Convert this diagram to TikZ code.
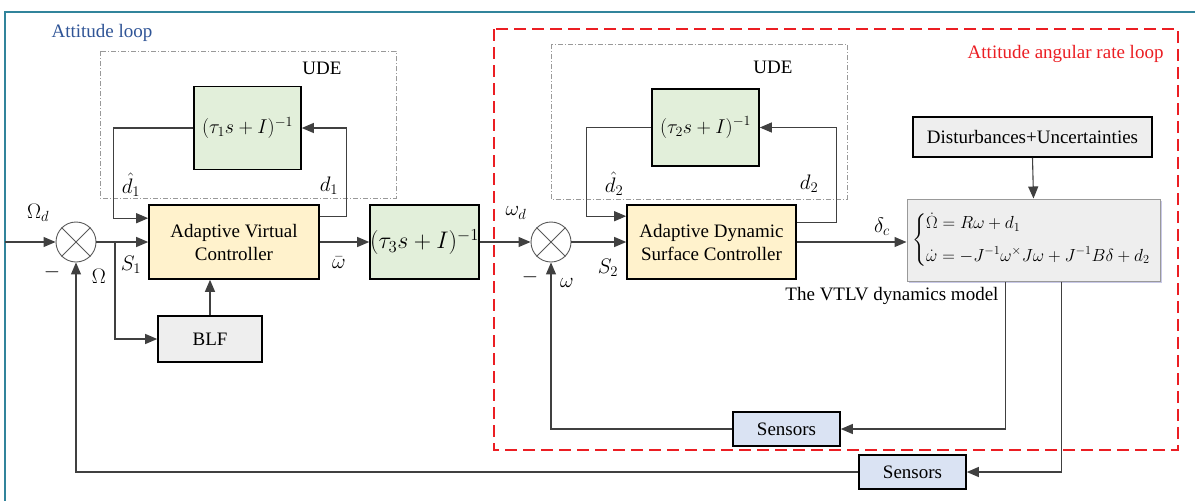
\RequirePackage{fix-cm}
\documentclass[tikz,border=0pt]{standalone}
\usepackage{amsmath,amssymb}
\usepackage{fontspec}
\setmainfont{Liberation Serif}
\usetikzlibrary{arrows.meta,shadows}

\definecolor{framecol}{RGB}{49,132,155}
\definecolor{loopblue}{RGB}{47,84,150}
\definecolor{loopred}{RGB}{235,30,35}
\definecolor{udegreen}{RGB}{226,239,218}
\definecolor{ctrlyellow}{RGB}{255,242,204}
\definecolor{blockgray}{RGB}{238,238,238}
\definecolor{sensblue}{RGB}{218,227,243}

\begin{document}
\begin{tikzpicture}[x=1pt, y=-1pt, every node/.style={font=\fontsize{19}{23}\selectfont},
  blk/.style={draw, line width=1.6pt, inner sep=0pt, align=center},
  wire/.style={draw=black!75, line width=1.1pt},
  arr/.style={wire, -{Triangle[length=12pt,width=10pt]}},
  udebox/.style={draw=gray!80, line width=0.8pt, dash pattern=on 5pt off 2pt on 1pt off 2pt},
  sumnode/.style={circle, draw=gray!70!black, line width=0.9pt, minimum size=40pt, inner sep=0pt},
  lbl/.style={inner sep=0pt, font=\fontsize{21}{25}\selectfont}]
\useasboundingbox (0,0) rectangle (1195,501);

% Outer frame
\draw[framecol, line width=2pt] (5,501) -- (5,12) -- (1195,12);

% Loop areas
\draw[loopred, line width=1.6pt, dash pattern=on 12pt off 6pt] (494,29) rectangle (1178,450);
\node[loopblue, anchor=west] (attl) at (48,33) {Attitude loop};
\node[loopred, anchor=east] (ratel) at (1167,54) {Attitude angular rate loop};

% UDE areas
\draw[udebox] (100,51) rectangle (396,198);
\node (ude1) at (322,68) {UDE};
\draw[udebox] (551,44) rectangle (847,199);
\node (ude2) at (773,67) {UDE};

% Summing junctions
\node[sumnode] (sum1) at (76,242) {};
\draw[gray!70!black, line width=0.9pt] (sum1.north west) -- (sum1.south east) (sum1.north east) -- (sum1.south west);
\node[sumnode] (sum2) at (551,242) {};
\draw[gray!70!black, line width=0.9pt] (sum2.north west) -- (sum2.south east) (sum2.north east) -- (sum2.south west);

% Blocks
\node[blk, fill=ctrlyellow, minimum width=170pt, minimum height=74pt] (avc) at (234,242) {Adaptive Virtual\\Controller};
\node[blk, fill=blockgray, minimum width=104pt, minimum height=46pt] (blf) at (210,339) {BLF};
\node[blk, fill=udegreen, minimum width=107pt, minimum height=83pt, font=\fontsize{20}{24}\selectfont] (filt1) at (247.5,128) {$(\tau_1 s+I)^{-1}$};
\node[blk, fill=udegreen, minimum width=107pt, minimum height=74pt, font=\fontsize{24}{28}\selectfont] (filt3) at (424.5,242) {$(\tau_3 s+I)^{-1}$};
\node[blk, fill=udegreen, minimum width=107pt, minimum height=77pt, font=\fontsize{20}{24}\selectfont] (filt2) at (705.5,127.5) {$(\tau_2 s+I)^{-1}$};
\node[blk, fill=ctrlyellow, minimum width=169pt, minimum height=74pt] (adsc) at (711.5,242) {Adaptive Dynamic\\Surface Controller};
\node[blk, fill=blockgray, minimum width=239pt, minimum height=40pt] (dist) at (1032.5,137) {Disturbances+Uncertainties};
\node[draw=gray!80, line width=1pt, fill=blockgray, text width=243pt, minimum height=82pt, inner sep=5pt, align=left,
  font=\fontsize{17.5}{21}\selectfont, drop shadow={shadow xshift=2pt, shadow yshift=-2pt, opacity=0.3, fill=blue!40!gray}] (model) at (1033.5,240)
  {$\begin{cases}\dot{\Omega}=R\omega+d_1\\[7pt] \dot{\omega}=-J^{-1}\omega^{\times}J\omega+J^{-1}B\delta+d_2\end{cases}$};
\node[anchor=east] (modl) at (1002,296) {The VTLV dynamics model};
\node[blk, fill=sensblue, minimum width=107pt, minimum height=34pt] (sens1) at (786.5,429) {Sensors};
\node[blk, fill=sensblue, minimum width=107pt, minimum height=34pt] (sens2) at (912.5,472) {Sensors};

% Forward path
\coordinate (in) at (5,242);
\draw[arr] (in) -- (sum1.west);
\draw[arr] (sum1.east) -- (avc.west);
\coordinate (s1) at (115,242);
\draw[arr] (s1) |- (blf.west);
\draw[arr] (blf.north) -- (blf.north |- avc.south);
\draw[arr] (avc.east) -- (filt3.west);
\draw[arr] (filt3.east) -- (sum2.west);
\draw[arr] (sum2.east) -- (adsc.west);
\draw[arr] (adsc.east) -- (adsc.east -| model.west);
\draw[arr] (dist.south) -- (model.north);

% UDE loops
\draw[arr] (filt1.west) -- ++(-80,0) |- ([yshift=-14pt]avc.north west);
\draw[arr] ([yshift=-12pt]avc.north east) -- ++(27,0) |- (filt1.east);
\draw[arr] (filt2.west) -- ++(-65,0) |- ([yshift=-12pt]adsc.north west);
\draw[arr] ([yshift=-18pt]adsc.north east) -- ++(40,0) |- (filt2.east);

% Feedback paths
\draw[arr] ([xshift=-28pt]model.south) |- (sens1.east);
\draw[arr] (sens1.west) -| (sum2.south);
\draw[arr] ([xshift=28pt]model.south) |- (sens2.east);
\draw[arr] (sens2.west) -| (sum1.south);

% Signal labels
\node[lbl] (omd) at (38,213) {$\Omega_d$};
\node[lbl] (neg1) at (52,272) {$-$};
\node[lbl] (om) at (99,276) {$\Omega$};
\node[lbl] (s1l) at (131,265) {$S_1$};
\node[lbl] (dh1) at (131,185) {$\hat{d}_1$};
\node[lbl] (d1) at (329,186) {$d_1$};
\node[lbl] (wbar) at (339,263) {$\bar{\omega}$};
\node[lbl] (wd) at (516,213) {$\omega_d$};
\node[lbl] (neg2) at (530,277) {$-$};
\node[lbl] (wl) at (567,283) {$\omega$};
\node[lbl] (s2l) at (608,268) {$S_2$};
\node[lbl] (dh2) at (614,184) {$\hat{d}_2$};
\node[lbl] (d2) at (809,184) {$d_2$};
\node[lbl] (dc) at (882,227) {$\delta_c$};
\end{tikzpicture}
\end{document}
